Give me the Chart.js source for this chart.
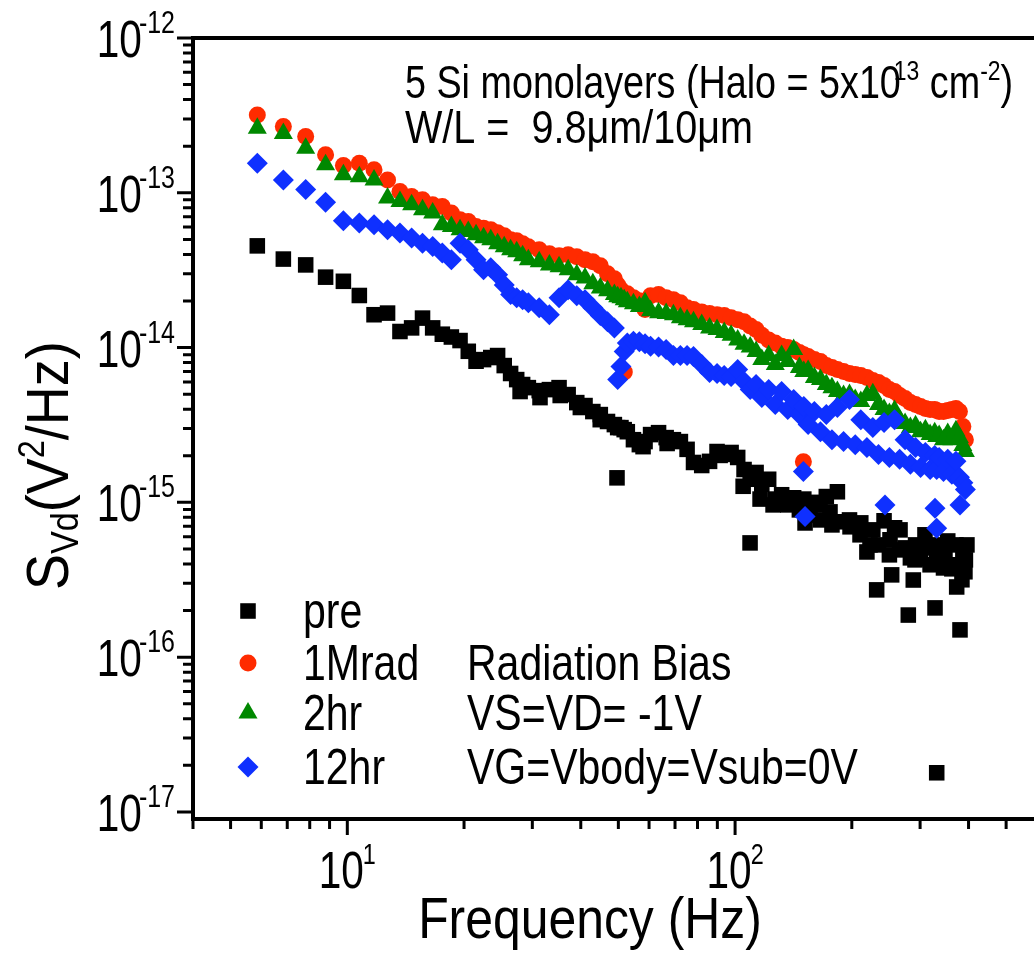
<!DOCTYPE html>
<html>
<head>
<meta charset="utf-8">
<script src="https://cdn.jsdelivr.net/npm/chart.js@4.4.0/dist/chart.umd.min.js"></script>
<style>
  html, body { margin: 0; padding: 0; background: #fff; }
  canvas { display: block; }
</style>
</head>
<body>
<canvas id="chart" width="1034" height="955"></canvas>
<script>
// frequency bins (Hz)
const freq = [5.86, 6.84, 7.81, 8.79, 9.77, 10.74, 11.72, 12.70, 13.67, 14.65,
  15.63, 16.60, 17.58, 18.55, 19.53, 20.51, 21.48, 22.46, 23.44, 24.41,
  25.39, 26.37, 27.34, 28.32, 29.30, 31.25, 33.20, 35.16, 37.11, 39.06,
  41.02, 42.97, 44.92, 46.88, 48.83, 49.80, 50.78, 51.76, 52.73, 54.69,
  56.64, 58.59, 60.55, 63.48, 66.41, 69.34, 72.27, 75.20, 78.13, 82.03,
  85.94, 89.84, 93.75, 97.66, 101.56, 105.47, 109.38, 113.28, 117.19, 122.07,
  126.95, 131.84, 136.72, 141.60, 146.48, 150.39, 154.30, 160.16, 166.02, 171.88,
  177.73, 183.59, 190.43, 197.27, 204.10, 210.94, 218.75, 226.56, 234.38, 242.19,
  250.00, 257.81, 265.63, 274.41, 283.20, 292.00, 300.78, 309.57, 318.36, 327.15,
  331.05, 335.94, 344.73, 353.52, 362.30, 371.09, 378.91, 386.72, 392.58];

// S_Vd (V^2/Hz) per series, same order as freq
const pre = [4.54e-14, 3.73e-14, 3.42e-14, 2.85e-14, 2.68e-14, 2.17e-14, 1.63e-14, 1.67e-14, 1.27e-14, 1.34e-14,
  1.55e-14, 1.34e-14, 1.22e-14, 1.17e-14, 1.11e-14, 9.46e-15, 8.16e-15, 8.36e-15, 8.62e-15, 8.88e-15,
  7.65e-15, 6.80e-15, 6.21e-15, 5.77e-15, 5.51e-15, 5.27e-15, 5.35e-15, 5.51e-15, 4.97e-15, 4.41e-15,
  4.22e-15, 3.86e-15, 3.69e-15, 3.33e-15, 3.18e-15, 3.04e-15, 3.04e-15, 2.95e-15, 2.86e-15, 2.54e-15,
  2.36e-15, 2.47e-15, 2.74e-15, 2.82e-15, 2.62e-15, 2.54e-15, 2.47e-15, 2.20e-15, 1.81e-15, 1.73e-15,
  1.84e-15, 2.13e-15, 2.04e-15, 2.10e-15, 1.95e-15, 1.63e-15, 1.41e-15, 1.56e-15, 1.31e-15, 1.41e-15,
  1.05e-15, 1.12e-15, 9.63e-16, 1.07e-15, 8.94e-16, 1.05e-15, 8.30e-16, 1.00e-15, 7.70e-16, 1.09e-15,
  7.15e-16, 1.17e-15, 7.49e-16, 7.70e-16, 7.15e-16, 7.37e-16, 4.78e-16, 6.64e-16, 5.31e-16, 7.60e-16,
  4.58e-16, 6.85e-16, 4.93e-16, 5.08e-16, 4.38e-16, 5.31e-16, 4.32e-16, 5.08e-16, 3.95e-16, 5.31e-16,
  4.25e-16, 4.93e-16, 3.77e-16, 5.63e-16, 3.72e-16, 5.31e-16, 3.95e-16, 4.93e-16, 4.25e-16];

const mrad1 = [3.18e-13, 2.68e-13, 2.31e-13, 1.76e-13, 1.50e-13, 1.55e-13, 1.41e-13, 1.21e-13, 1.02e-13, 9.46e-14,
  9.00e-14, 8.36e-14, 8.16e-14, 7.40e-14, 6.70e-14, 6.52e-14, 6.06e-14, 5.91e-14, 5.77e-14, 5.51e-14,
  5.27e-14, 4.97e-14, 4.90e-14, 4.68e-14, 4.48e-14, 4.28e-14, 4.04e-14, 3.92e-14, 3.98e-14, 3.86e-14,
  3.69e-14, 3.58e-14, 3.38e-14, 3.00e-14, 2.78e-14, 2.54e-14, 2.36e-14, 2.23e-14, 2.23e-14, 2.10e-14,
  2.01e-14, 1.76e-14, 2.16e-14, 2.20e-14, 2.10e-14, 2.04e-14, 1.95e-14, 1.81e-14, 1.76e-14, 1.70e-14,
  1.66e-14, 1.63e-14, 1.61e-14, 1.56e-14, 1.51e-14, 1.47e-14, 1.38e-14, 1.31e-14, 1.20e-14, 1.12e-14,
  1.07e-14, 1.02e-14, 1.00e-14, 9.70e-15, 9.28e-15, 9.00e-15, 8.75e-15, 8.36e-15, 8.12e-15, 7.65e-15,
  7.43e-15, 7.21e-15, 7.00e-15, 6.80e-15, 6.70e-15, 6.60e-15, 6.40e-15, 6.12e-15, 5.94e-15, 5.68e-15,
  5.35e-15, 5.20e-15, 4.90e-15, 4.68e-15, 4.41e-15, 4.28e-15, 4.16e-15, 4.04e-15, 3.98e-15, 3.98e-15,
  3.92e-15, 3.86e-15, 3.86e-15, 3.92e-15, 3.98e-15, 4.04e-15, 3.86e-15, 3.09e-15, 2.54e-15];

const hr2 = [2.61e-13, 2.42e-13, 1.94e-13, 1.52e-13, 1.31e-13, 1.27e-13, 1.21e-13, 9.24e-14, 8.79e-14, 8.36e-14,
  7.77e-14, 7.40e-14, 6.21e-14, 6.06e-14, 5.77e-14, 5.62e-14, 5.35e-14, 5.12e-14, 4.97e-14, 4.68e-14,
  4.48e-14, 4.28e-14, 4.16e-14, 3.92e-14, 3.69e-14, 3.58e-14, 3.42e-14, 3.33e-14, 3.18e-14, 2.95e-14,
  2.82e-14, 2.58e-14, 2.43e-14, 2.33e-14, 2.20e-14, 2.13e-14, 2.10e-14, 2.04e-14, 1.98e-14, 1.92e-14,
  1.84e-14, 1.95e-14, 1.73e-14, 1.68e-14, 1.66e-14, 1.63e-14, 1.56e-14, 1.51e-14, 1.47e-14, 1.41e-14,
  1.34e-14, 1.31e-14, 1.25e-14, 1.20e-14, 1.12e-14, 1.05e-14, 1.01e-14, 9.42e-15, 8.36e-15, 8.88e-15,
  7.77e-15, 8.88e-15, 8.12e-15, 9.70e-15, 7.43e-15, 7.00e-15, 7.11e-15, 6.40e-15, 6.21e-15, 5.77e-15,
  5.51e-15, 5.20e-15, 4.90e-15, 4.97e-15, 4.61e-15, 4.48e-15, 4.90e-15, 5.04e-15, 4.28e-15, 3.98e-15,
  3.75e-15, 3.92e-15, 3.42e-15, 3.23e-15, 3.04e-15, 3.13e-15, 2.86e-15, 2.95e-15, 2.74e-15, 2.82e-15,
  2.66e-15, 2.70e-15, 2.54e-15, 2.78e-15, 2.54e-15, 2.90e-15, 2.62e-15, 2.33e-15, 2.13e-15];

const hr12 = [1.55e-13, 1.21e-13, 1.05e-13, 8.68e-14, 6.60e-14, 6.37e-14, 6.21e-14, 5.77e-14, 5.49e-14, 5.10e-14,
  4.72e-14, 4.50e-14, 4.08e-14, 3.69e-14, 4.72e-14, 4.28e-14, 3.69e-14, 3.18e-14, 3.28e-14, 2.95e-14,
  2.54e-14, 2.20e-14, 2.10e-14, 2.04e-14, 1.95e-14, 1.81e-14, 1.63e-14, 2.10e-14, 2.36e-14, 2.16e-14,
  2.04e-14, 1.81e-14, 1.61e-14, 1.47e-14, 1.34e-14, 6.21e-15, 7.54e-15, 9.42e-15, 1.07e-14, 1.10e-14,
  1.09e-14, 1.06e-14, 1.02e-14, 1.01e-14, 9.70e-15, 8.88e-15, 8.88e-15, 8.88e-15, 8.75e-15, 7.77e-15,
  6.90e-15, 6.80e-15, 6.60e-15, 6.50e-15, 7.21e-15, 6.03e-15, 5.35e-15, 5.77e-15, 4.75e-15, 5.35e-15,
  4.28e-15, 5.20e-15, 3.98e-15, 4.61e-15, 3.69e-15, 4.16e-15, 3.18e-15, 3.86e-15, 2.86e-15, 3.69e-15,
  2.54e-15, 4.10e-15, 2.47e-15, 4.61e-15, 2.36e-15, 3.42e-15, 2.26e-15, 3.04e-15, 2.04e-15, 3.28e-15,
  1.95e-15, 3.42e-15, 1.90e-15, 2.54e-15, 1.76e-15, 2.26e-15, 1.68e-15, 2.10e-15, 1.63e-15, 2.01e-15,
  1.63e-15, 1.95e-15, 1.58e-15, 1.90e-15, 1.52e-15, 1.84e-15, 1.45e-15, 1.34e-15, 1.21e-15];

// extra points: outliers and the thick part of the bands
const preExtraF = [49.6, 109.3, 151.5, 231.8, 253.4, 279.7, 288.1, 327.8, 372.8, 380.2, 331.1,
  156.1, 165.6, 175.7, 197.9, 210.0, 222.8, 250.9, 266.3, 291.0, 308.8, 347.7, 368.9, 391.5, 396.2, 384.6,
  27.9, 31.4, 35.4, 39.9, 44.9, 57.9, 66.8, 91.5, 104.9, 116.0, 125.3];
const preExtraV = [1.44e-15, 5.47e-16, 7.36e-16, 2.72e-16, 3.40e-16, 1.87e-16, 3.15e-16, 2.08e-16, 2.84e-16, 1.50e-16, 1.79e-17,
  8.30e-16, 9.63e-16, 8.68e-16, 6.95e-16, 6.17e-16, 5.31e-16, 5.73e-16, 6.64e-16, 4.25e-16, 6.17e-16, 4.58e-16, 3.95e-16, 3.56e-16, 5.31e-16, 3.16e-16,
  5.20e-15, 4.75e-15, 4.90e-15, 4.10e-15, 3.42e-15, 2.29e-15, 2.40e-15, 2.01e-15, 1.27e-15, 1.05e-15, 9.63e-16];
const mrad1ExtraF = [51.8, 150.0];
const mrad1ExtraV = [6.96e-15, 1.83e-15];
const hr12ExtraF = [150.0, 151.5, 243.6, 327.8, 331.1, 380.2];
const hr12ExtraV = [1.58e-15, 8.09e-16, 9.60e-16, 9.16e-16, 6.80e-16, 9.60e-16];

// axes
const xMajor = [10, 100];
const xMajorExp = ['1', '2'];
const xMinor = [4, 5, 6, 7, 8, 9, 20, 30, 40, 50, 60, 70, 80, 90, 200, 300, 400, 500];
const yMajor = [1e-12, 1e-13, 1e-14, 1e-15, 1e-16, 1e-17];
const yMajorExp = ['-12', '-13', '-14', '-15', '-16', '-17'];

const FONT = '"Liberation Sans", Arial, sans-serif';

function pts(xs, ys) {
  return xs.map((x, i) => ({ x: x, y: ys[i] }));
}

// draw a run of text pieces: [text, size, dy, dx]
function rich(ctx, parts, x, y, sx, align) {
  let total = 0;
  const ws = parts.map(p => {
    ctx.font = p[1] + 'px ' + FONT;
    const w = ctx.measureText(p[0]).width * sx + (p[3] || 0);
    total += w;
    return w;
  });
  let cx = align === 'right' ? x - total : align === 'center' ? x - total / 2 : x;
  parts.forEach((p, i) => {
    ctx.save();
    ctx.font = p[1] + 'px ' + FONT;
    ctx.textAlign = 'left';
    ctx.textBaseline = 'alphabetic';
    ctx.translate(cx + (p[3] || 0), y + (p[2] || 0));
    ctx.scale(sx, 1);
    ctx.fillText(p[0], 0, 0);
    ctx.restore();
    cx += ws[i];
  });
}

const frame = {
  id: 'frame',
  afterDraw(chart) {
    const ctx = chart.ctx;
    const a = chart.chartArea;
    const xs = chart.scales.x, ys = chart.scales.y;
    ctx.save();
    ctx.fillStyle = '#000';
    ctx.strokeStyle = '#000';

    // ticks
    ctx.lineWidth = 3;
    ctx.beginPath();
    xMinor.forEach(v => { const px = xs.getPixelForValue(v); ctx.moveTo(px, a.bottom); ctx.lineTo(px, a.bottom + 10); });
    xMajor.forEach(v => { const px = xs.getPixelForValue(v); ctx.moveTo(px, a.bottom); ctx.lineTo(px, a.bottom + 16); });
    yMajor.forEach(v => {
      const py = ys.getPixelForValue(v);
      ctx.moveTo(a.left, py); ctx.lineTo(a.left - 16, py);
    });
    for (let e = -13; e >= -17; e--) {
      for (let m = 2; m <= 9; m++) {
        const py = ys.getPixelForValue(m * Math.pow(10, e));
        ctx.moveTo(a.left, py); ctx.lineTo(a.left - 10, py);
      }
    }
    ctx.stroke();

    // axis lines
    ctx.lineWidth = 4;
    ctx.beginPath();
    ctx.moveTo(a.left, a.top - 2); ctx.lineTo(a.left, a.bottom + 2);
    ctx.moveTo(a.left - 2, a.top); ctx.lineTo(chart.width, a.top);
    ctx.moveTo(a.left - 2, a.bottom); ctx.lineTo(chart.width, a.bottom);
    ctx.stroke();

    // tick labels
    xMajor.forEach((v, i) => {
      rich(ctx, [['10', 52, 0], [xMajorExp[i], 30, -24, -1]], xs.getPixelForValue(v), 888, 0.78, 'center');
    });
    yMajor.forEach((v, i) => {
      rich(ctx, [['10', 52, 0], [yMajorExp[i], 32, -24, -3]], 175, ys.getPixelForValue(v) + 19, 0.78, 'right');
    });

    // axis titles
    rich(ctx, [['Frequency (Hz)', 58, 0]], 590, 938, 0.86, 'center');
    ctx.save();
    ctx.translate(68, 590);
    ctx.rotate(-Math.PI / 2);
    rich(ctx, [['S', 60, 0], ['Vd', 38, 10], ['(V', 60, 0], ['2', 36, -24], ['/Hz)', 60, 0]], 0, 0, 0.9, 'left');
    ctx.restore();

    // annotation
    rich(ctx, [['5 Si monolayers (Halo = 5x10', 46, 0], ['13', 28, -18, -7], [' cm', 46, 0], ['-2', 28, -18], [')', 46, 0]], 405, 98, 0.82, 'left');
    rich(ctx, [['W/L =  9.8\u03bcm/10\u03bcm', 46, 0]], 405, 143, 0.86, 'left');

    // legend
    const rows = [611, 663, 713, 767];
    const names = ['pre', '1Mrad', '2hr', '12hr'];
    const notes = ['', 'Radiation Bias', 'VS=VD= -1V', 'VG=Vbody=Vsub=0V'];
    const ds = chart.data.datasets;
    rows.forEach((ry, i) => {
      const d = ds[i];
      ctx.fillStyle = d.pointBackgroundColor;
      Chart.helpers.drawPoint(ctx, { pointStyle: d.pointStyle, radius: d.pointRadius, rotation: 0, borderWidth: 0 }, 248, ry);
      ctx.fillStyle = '#000';
      rich(ctx, [[names[i], 50, 0]], 303, ry + 17, 0.82, 'left');
      if (notes[i]) rich(ctx, [[notes[i], 50, 0]], 467, ry + 17, 0.82, 'left');
    });
    ctx.restore();
  }
};

new Chart(document.getElementById('chart').getContext('2d'), {
  type: 'scatter',
  data: {
    datasets: [
      { label: 'pre', data: pts(freq, pre).concat(pts(preExtraF, preExtraV)),
        pointStyle: 'rect', pointRadius: 11, pointBackgroundColor: '#000000', pointBorderWidth: 0, order: 4 },
      { label: '1Mrad', data: pts(freq, mrad1).concat(pts(mrad1ExtraF, mrad1ExtraV)),
        pointStyle: 'circle', pointRadius: 8.5, pointBackgroundColor: '#ff2b00', pointBorderWidth: 0, order: 3 },
      { label: '2hr', data: pts(freq, hr2),
        pointStyle: 'triangle', pointRadius: 11, pointBackgroundColor: '#008800', pointBorderWidth: 0, order: 2 },
      { label: '12hr', data: pts(freq, hr12).concat(pts(hr12ExtraF, hr12ExtraV)),
        pointStyle: 'rectRot', pointRadius: 10.5, pointBackgroundColor: '#0f30ff', pointBorderWidth: 0, order: 1 }
    ]
  },
  options: {
    responsive: false,
    animation: false,
    devicePixelRatio: 1,
    layout: { autoPadding: false, padding: { left: 193, top: 38, right: 0, bottom: 136 } },
    scales: {
      x: { type: 'logarithmic', min: 4, max: 590, display: false },
      y: { type: 'logarithmic', min: 9e-18, max: 1e-12, display: false }
    },
    plugins: { legend: { display: false }, tooltip: { enabled: false } }
  },
  plugins: [frame]
});
</script>
</body>
</html>
